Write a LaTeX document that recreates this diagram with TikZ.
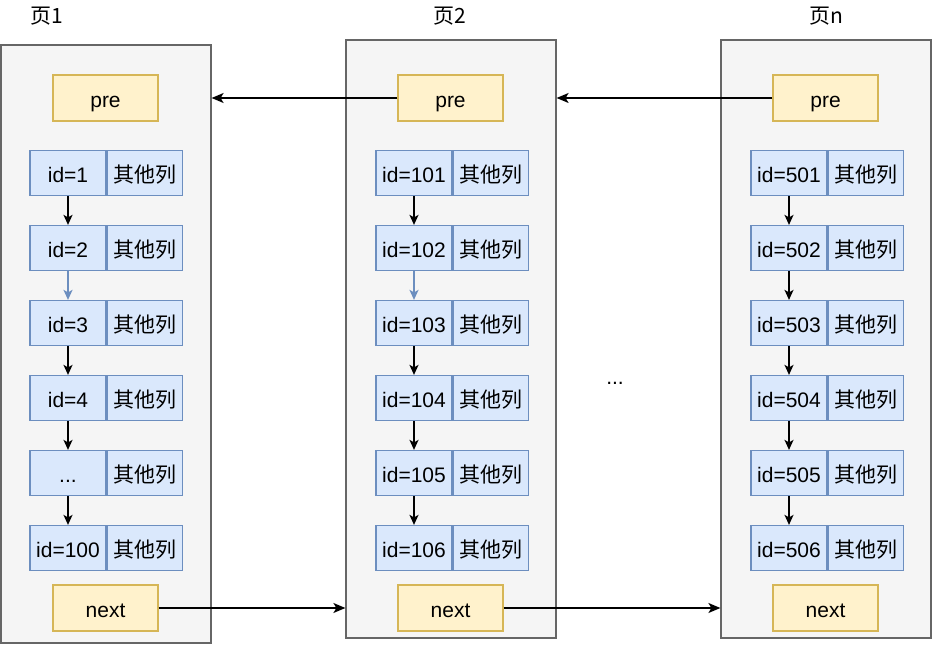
\documentclass[tikz,border=0pt]{standalone}
\usepackage{fontspec}
\setmainfont{Liberation Sans}
\newfontfamily\cjk{Noto Sans CJK SC}
\usetikzlibrary{arrows.meta}
\definecolor{pagefill}{HTML}{F5F5F5}
\definecolor{pagedraw}{HTML}{666666}
\definecolor{yfill}{HTML}{FFF2CC}
\definecolor{ydraw}{HTML}{D6B656}
\definecolor{bfill}{HTML}{DAE8FC}
\definecolor{bdraw}{HTML}{6C8EBF}
\tikzset{
  txt/.style={font=\fontsize{21}{25}\selectfont, text height=19pt, text depth=0pt},
  pagebox/.style={draw=pagedraw, fill=pagefill, line width=1.2pt, minimum width=210pt, minimum height=598pt, inner sep=0pt},
  ybox/.style={txt, draw=ydraw, fill=yfill, line width=1.2pt, minimum width=105pt, minimum height=46pt, inner sep=0pt},
  cell/.style={txt, draw=bdraw, fill=bfill, line width=1.2pt, minimum height=45pt, inner sep=0pt},
  title/.style={font=\fontsize{21}{25}\cjk, inner sep=0pt, anchor=base west},
  harr/.style={draw=black, line width=1.4pt, -{Stealth[length=12pt,width=10pt,inset=3pt]}},
  varr/.style={draw=black, line width=1.6pt, -{Stealth[length=10pt,width=9pt,inset=2.5pt]}},
  barr/.style={varr, draw=bdraw},
}
\newcommand\mkrow[4]{%
  \node[cell, minimum width=76pt] (#1) at (#2,#3) {#4};
  \node[cell, minimum width=75pt, anchor=west] (#1o) at (#1.east) {\cjk 其他列};
}
\begin{document}
\begin{tikzpicture}[x=1pt,y=-1pt]
\useasboundingbox (0,0) rectangle (932,647);
% pages
\node[pagebox] (p1) at (106,344) {};
\node[pagebox] (p2) at (451,339) {};
\node[pagebox] (pn) at (826,339) {};
% titles
\node[title] (t1) at (30,24) {页1};
\node[title] (t2) at (433,24) {页2};
\node[title] (tn) at (809,24) {页n};
% pre / next
\node[ybox] (pre1) at (105.5,98) {pre};
\node[ybox] (pre2) at (450.5,98) {pre};
\node[ybox] (pren) at (825.5,98) {pre};
\node[ybox] (next1) at (105.5,608) {next};
\node[ybox] (next2) at (450.5,608) {next};
\node[ybox] (nextn) at (825.5,608) {next};
% rows page 1
\mkrow{a1}{68}{173}{id=1}
\mkrow{a2}{68}{248}{id=2}
\mkrow{a3}{68}{323}{id=3}
\mkrow{a4}{68}{398}{id=4}
\mkrow{a5}{68}{473}{...}
\mkrow{a6}{68}{548}{id=100}
% rows page 2
\mkrow{b1}{414}{173}{id=101}
\mkrow{b2}{414}{248}{id=102}
\mkrow{b3}{414}{323}{id=103}
\mkrow{b4}{414}{398}{id=104}
\mkrow{b5}{414}{473}{id=105}
\mkrow{b6}{414}{548}{id=106}
% rows page n
\mkrow{c1}{789}{173}{id=501}
\mkrow{c2}{789}{248}{id=502}
\mkrow{c3}{789}{323}{id=503}
\mkrow{c4}{789}{398}{id=504}
\mkrow{c5}{789}{473}{id=505}
\mkrow{c6}{789}{548}{id=506}
% dots between pages
\node[txt, inner sep=0pt] (dots) at (615,375) {...};
% vertical arrows
\draw[varr] (a1) -- (a2);
\draw[barr] (a2) -- (a3);
\draw[varr] (a3) -- (a4);
\draw[varr] (a4) -- (a5);
\draw[varr] (a5) -- (a6);
\draw[varr] (b1) -- (b2);
\draw[barr] (b2) -- (b3);
\draw[varr] (b3) -- (b4);
\draw[varr] (b4) -- (b5);
\draw[varr] (b5) -- (b6);
\draw[varr] (c1) -- (c2);
\draw[varr] (c2) -- (c3);
\draw[varr] (c3) -- (c4);
\draw[varr] (c4) -- (c5);
\draw[varr] (c5) -- (c6);
% page links
\draw[harr] (pre2.west) -- (pre2.west -| p1.east);
\draw[harr] (pren.west) -- (pren.west -| p2.east);
\draw[harr] (next1.east) -- (next1.east -| p2.west);
\draw[harr] (next2.east) -- (next2.east -| pn.west);
\end{tikzpicture}
\end{document}
